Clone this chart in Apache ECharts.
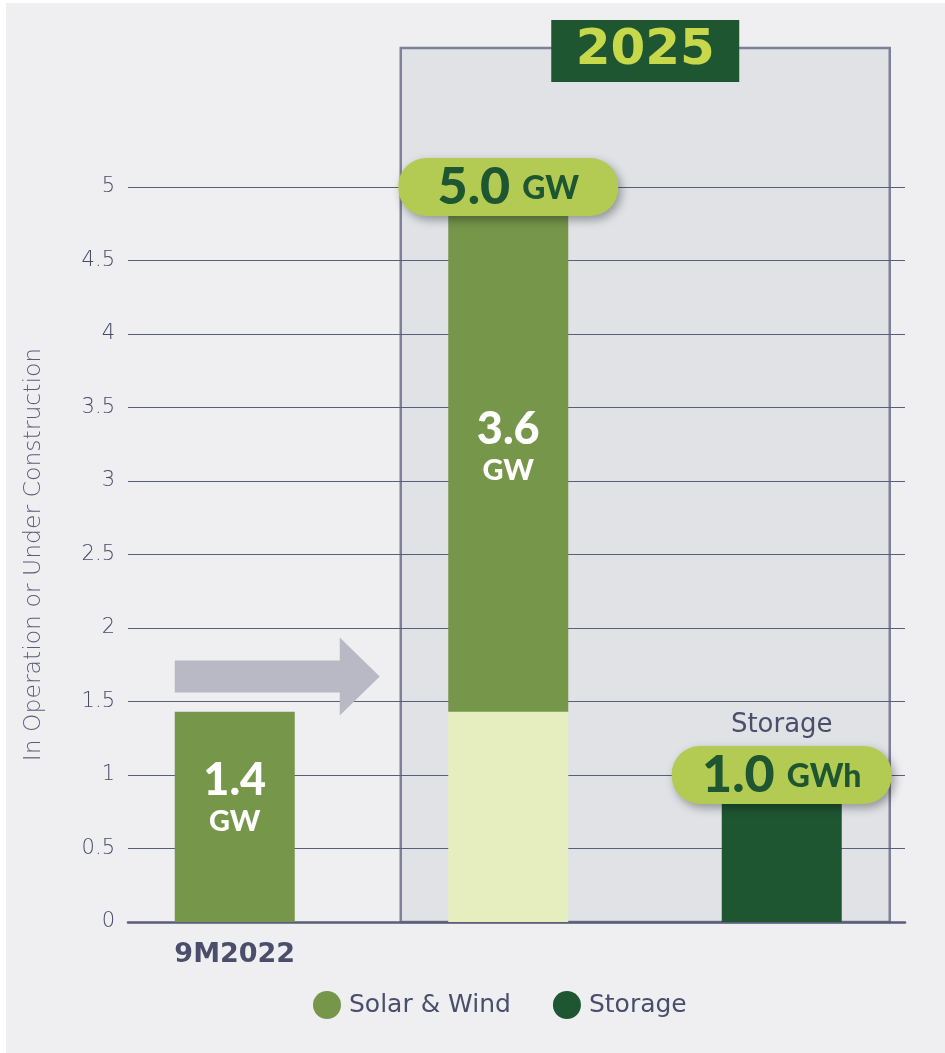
<!DOCTYPE html>
<html>
<head>
<meta charset="utf-8">
<script src="https://cdn.jsdelivr.net/npm/echarts@6/dist/echarts.min.js"></script>
<style>
html,body{margin:0;padding:0;background:#ffffff;}
#chart{position:absolute;left:6px;top:3px;width:939px;height:1050px;background:#efeff2;}
</style>
</head>
<body>
<div id="chart"></div>
<script>
// ---- data ----
const categories = ['9M2022', '2025', 'Storage 2025'];
const existingBase = ['-', 1.43, '-'];          // 2025 light base (existing capacity)
const solarWind = [1.43, 3.57, '-'];            // Solar & Wind (GW)
const storage = ['-', '-', 1.0];                // Storage (GWh)
const totals = [[1, 5.0], [2, 1.0]];            // pill callouts
const totalUnits = ['GW', 'GWh'];
const segmentLabels = ['1.4', '3.6'];
const yTicks = { min: 0, max: 5, interval: 0.5 };

const BOLD = 'Lato, "Noto Sans", sans-serif';
const GRAYF = '"DejaVu Sans", sans-serif';
const TXT = '#474b68';
const GREEN = '#76964a', LIGHT = '#e6edbf', DARK = '#1e5631', PILL = '#b3cb53';

const chart = echarts.init(document.getElementById('chart'), null, {renderer: 'canvas'});

const option = {
  animation: false,
  textStyle: {fontFamily: GRAYF},
  grid: [
    {left: 122, right: 40, top: 184, bottom: 131},
    {left: 92, right: 26.5, top: 184, bottom: 131}
  ],
  legend: {
    data: ['Solar & Wind', 'Storage'],
    left: 302, top: 983,
    icon: 'circle', itemWidth: 28, itemHeight: 28, itemGap: 42,
    textStyle: {fontFamily: GRAYF, fontSize: 25, color: '#4a4e6a', fontWeight: 'normal', padding: [0, 0, 0, 3]}
  },
  xAxis: [
    {type: 'value', gridIndex: 0, min: 0, max: 1, show: true,
     axisLine: {show: true, onZero: false, lineStyle: {color: '#5a5e78', width: 2.5}},
     axisTick: {show: false}, axisLabel: {show: false}, splitLine: {show: false}},
    {type: 'category', gridIndex: 1, data: categories,
     axisLine: {show: false}, axisTick: {show: false},
     axisLabel: {margin: 19, fontSize: 27, fontWeight: 'bold', color: '#4a4e6a', fontFamily: GRAYF,
       formatter: (v, i) => i === 0 ? v : ''}}
  ],
  yAxis: [
    {type: 'value', gridIndex: 0, min: yTicks.min, max: yTicks.max, interval: yTicks.interval,
     name: 'In Operation or Under Construction', nameLocation: 'middle', nameGap: 82,
     nameTextStyle: {fontSize: 23.5, color: '#5a5e78', fontFamily: GRAYF, fontWeight: 200},
     axisLine: {show: false}, axisTick: {show: false},
     axisLabel: {fontSize: 21, color: TXT, margin: 13, fontWeight: 200, fontFamily: GRAYF},
     splitLine: {show: true, lineStyle: {color: '#5a5e78', width: 1}}},
    {type: 'value', gridIndex: 1, min: yTicks.min, max: yTicks.max, show: false, splitLine: {show: false}}
  ],
  series: [
    {name: 'Existing', type: 'bar', xAxisIndex: 1, yAxisIndex: 1, stack: 't', barWidth: 120,
     data: existingBase, itemStyle: {color: LIGHT}, z: 3},
    {name: 'Solar & Wind', type: 'bar', xAxisIndex: 1, yAxisIndex: 1, stack: 't', barWidth: 120,
     data: solarWind, itemStyle: {color: GREEN}, z: 3,
     label: {show: true, position: 'inside', color: '#ffffff', fontFamily: BOLD,
       formatter: p => '{a|' + segmentLabels[p.dataIndex] + '}\n{b|GW}',
       rich: {a: {fontSize: 45, fontWeight: 900, color: '#fff', lineHeight: 46, fontFamily: BOLD},
              b: {fontSize: 29, fontWeight: 900, color: '#fff', lineHeight: 36, fontFamily: BOLD}}},
     labelLayout: p => p.dataIndex === 0 ? {dy: -18} : {dy: -2}},
    {name: 'Storage', type: 'bar', xAxisIndex: 1, yAxisIndex: 1, stack: 't', barWidth: 120,
     data: storage, itemStyle: {color: DARK}, z: 3,
     label: {show: true, position: 'top', distance: 37, formatter: 'Storage',
       fontSize: 26, color: '#4a4e6a', fontFamily: GRAYF, fontWeight: 'normal'}},
    {name: 'Totals', type: 'scatter', xAxisIndex: 1, yAxisIndex: 1, symbolSize: 0, z: 10,
     itemStyle: {opacity: 1},
     data: totals,
     label: {show: true, position: 'inside', fontFamily: BOLD, opacity: 1,
       backgroundColor: PILL, borderRadius: 28, padding: [3, 28, 3, 28], width: 164, align: 'center',
       shadowColor: 'rgba(0,0,0,0.35)', shadowBlur: 10, shadowOffsetX: 3, shadowOffsetY: 4,
       formatter: p => '{a|' + p.value[1].toFixed(1) + '}{b|' + totalUnits[p.dataIndex] + '}',
       rich: {a: {fontSize: 52, fontWeight: 900, color: DARK, lineHeight: 52, verticalAlign: 'middle', fontFamily: BOLD},
              b: {fontSize: 32, fontWeight: 900, color: DARK, lineHeight: 52, verticalAlign: 'middle', fontFamily: BOLD, padding: [4, 0, 0, 12]}}}}
  ]
};
chart.setOption(option);

// decorations: 2025 box, 2025 tag, arrow
const c1 = chart.convertToPixel({xAxisIndex: 1, yAxisIndex: 1}, [1, 0]);
const c2 = chart.convertToPixel({xAxisIndex: 1, yAxisIndex: 1}, [2, 0]);
const c0 = chart.convertToPixel({xAxisIndex: 1, yAxisIndex: 1}, [0, 0]);
const boxTop = chart.convertToPixel({yAxisIndex: 1}, 5.945);
const boxL = c1[0] - 107.5, boxR = c2[0] + 108;
const arrowY = chart.convertToPixel({yAxisIndex: 1}, 1.67);
const ax0 = c0[0] - 60;
chart.setOption({
  graphic: [
    {type: 'rect', z: -10, silent: true,
     shape: {x: boxL, y: boxTop, width: boxR - boxL, height: c1[1] - boxTop},
     style: {fill: '#e1e2e6', stroke: '#7e8196', lineWidth: 2.5}},
    {type: 'rect', z: 20, silent: true,
     shape: {x: (boxL + boxR) / 2 - 94, y: boxTop - 28, width: 188, height: 62},
     style: {fill: DARK}},
    {type: 'text', z: 21, silent: true,
     x: (boxL + boxR) / 2, y: boxTop + 3,
     style: {text: '2025', fill: '#c8d84b', font: 'bold 50px ' + GRAYF, textAlign: 'center', textVerticalAlign: 'middle'}},
    {type: 'polygon', z: 5, silent: true,
     shape: {points: [[ax0, arrowY - 16], [ax0 + 165, arrowY - 16], [ax0 + 165, arrowY - 39],
                      [ax0 + 205, arrowY], [ax0 + 165, arrowY + 39], [ax0 + 165, arrowY + 16], [ax0, arrowY + 16]]},
     style: {fill: '#b9b9c5'}}
  ]
});
</script>
</body>
</html>
